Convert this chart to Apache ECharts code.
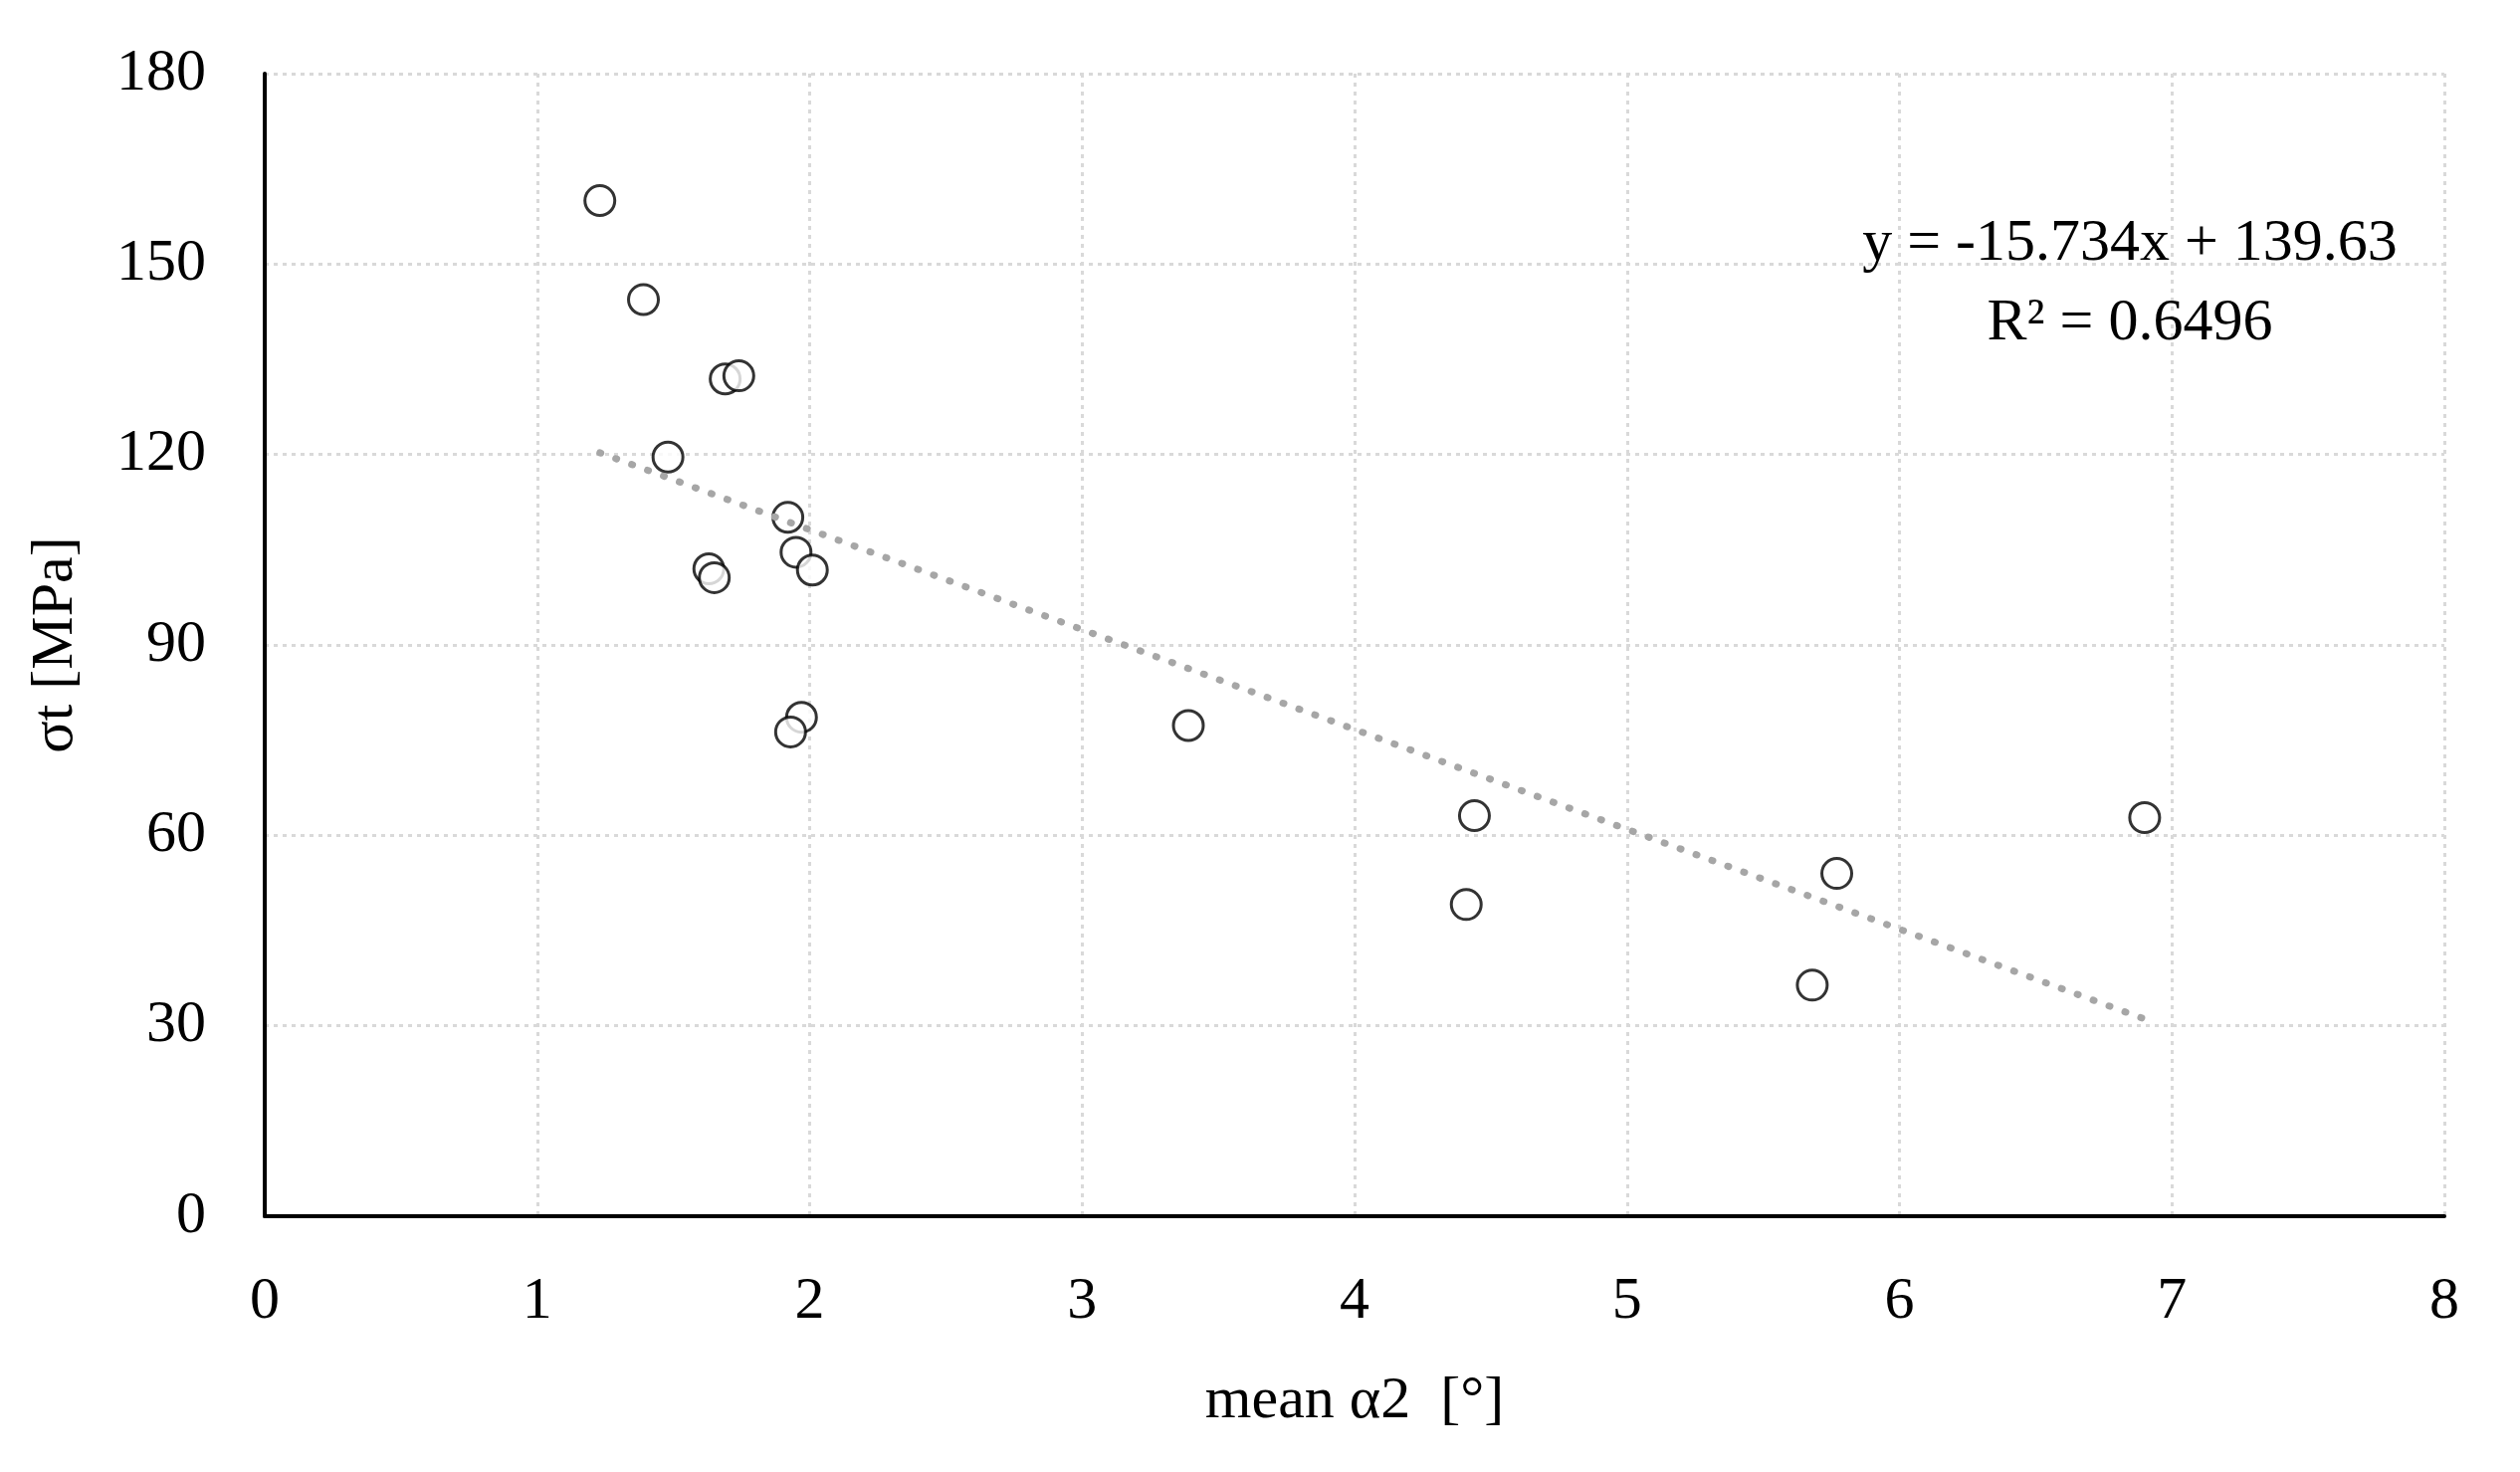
<!DOCTYPE html>
<html style="height: 100%">
<head>
    <meta charset="utf-8">
    <script src="https://cdn.jsdelivr.net/npm/echarts@6/dist/echarts.min.js"></script>
    <title>sigma t vs mean alpha2</title>
</head>
<body style="height: 100%; margin: 0; background: #fff">
<div id="container" style="width: 2532px; height: 1479px"></div>
<script type="text/javascript">
    // measured points (mean alpha2 [deg], sigma t [MPa])
    let meanAlpha = [1.23, 1.39, 1.69, 1.74, 1.48, 1.92, 1.95, 2.01, 1.63, 1.65, 1.97, 1.93, 3.39, 4.44, 4.41, 5.77, 5.68, 6.90]
    let sigmaT    = [160.0, 144.4, 131.9, 132.4, 119.6, 110.1, 104.6, 101.8, 102.0, 100.6, 78.6, 76.3, 77.3, 63.1, 49.1, 54.0, 36.4, 62.8]

    // linear trend as printed on the chart
    let slope = -15.734
    let intercept = 139.63
    let eqText = ['y = -15.734x + 139.63', 'R² = 0.6496']

    let xTicks = {min: 0, max: 8, interval: 1}
    let yTicks = {min: 0, max: 180, interval: 30}

    let points = meanAlpha.map((x, i) => [x, sigmaT[i]])
    let xLo = Math.min(...meanAlpha), xHi = Math.max(...meanAlpha)
    let trend = [[xLo, slope * xLo + intercept], [xHi, slope * xHi + intercept]]

    let font = '"Liberation Serif", "DejaVu Serif", serif'
    let gridLine = {show: true, lineStyle: {color: '#d9d9d9', width: 3, type: [4, 5]}}

    let chart = echarts.init(document.getElementById('container'))
    chart.setOption({
        backgroundColor: '#fff',
        animation: false,
        grid: {left: 266, top: 74, right: 76, bottom: 257},
        xAxis: {
            type: 'value',
            min: xTicks.min, max: xTicks.max, interval: xTicks.interval,
            name: 'mean α2  [°]',
            nameLocation: 'middle',
            nameGap: 156,
            nameTextStyle: {fontFamily: font, fontSize: 60, color: '#000'},
            axisLine: {show: true, lineStyle: {color: '#000', width: 4}},
            axisTick: {show: false},
            axisLabel: {fontFamily: font, fontSize: 60, color: '#000', margin: 56},
            splitLine: gridLine
        },
        yAxis: {
            type: 'value',
            min: yTicks.min, max: yTicks.max, interval: yTicks.interval,
            name: 'σt [MPa]',
            nameLocation: 'middle',
            nameGap: 180,
            nameRotate: 90,
            nameTextStyle: {fontFamily: font, fontSize: 60, color: '#000'},
            axisLine: {show: true, lineStyle: {color: '#000', width: 4}},
            axisTick: {show: false},
            axisLabel: {fontFamily: font, fontSize: 60, color: '#000', margin: 59},
            splitLine: gridLine
        },
        graphic: [{
            type: 'text',
            x: 2140, y: 285,
            style: {
                text: eqText.join('\n'),
                fontFamily: font, fontSize: 60, fill: '#000',
                align: 'center', verticalAlign: 'middle', lineHeight: 80
            },
            z: 10
        }],
        series: [
            {
                type: 'scatter',
                data: points,
                symbol: 'circle',
                symbolSize: 30,
                itemStyle: {color: '#fff', borderColor: '#000', borderWidth: 3},
                z: 2
            },
            {
                type: 'line',
                data: trend,
                symbol: 'none',
                lineStyle: {color: '#a6a6a6', width: 7, type: [1, 16], cap: 'round'},
                z: 3
            }
        ]
    })
</script>
</body>
</html>
